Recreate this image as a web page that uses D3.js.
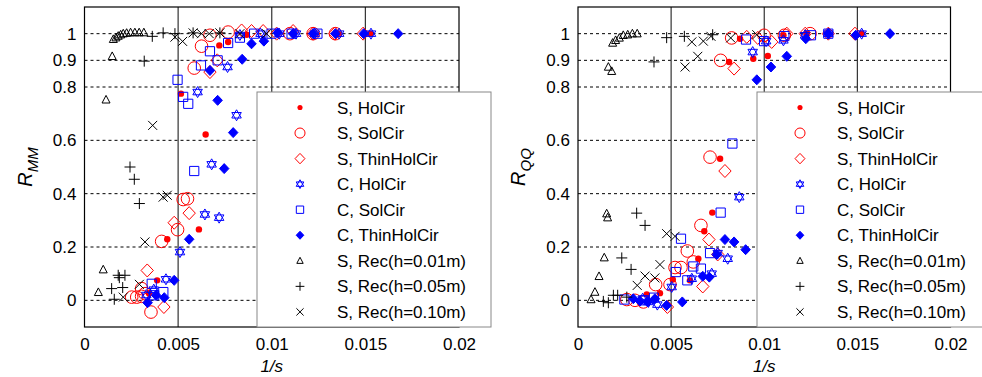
<!DOCTYPE html>
<html><head><meta charset="utf-8">
<script src="https://cdn.jsdelivr.net/npm/d3@7"></script>
<style>body{margin:0;background:#fff}svg{display:block}text{font-family:"Liberation Sans",Arial,sans-serif}</style>
</head><body><svg id="c" width="982" height="377"></svg>
<script>
const xTicks = [0, 0.005, 0.01, 0.015, 0.02];
const xTickLabels = ["0", "0.005", "0.01", "0.015", "0.02"];
const yTicks = [0, 0.2, 0.4, 0.6, 0.8, 0.9, 1];
const yTickLabels = ["0", "0.2", "0.4", "0.6", "0.8", "0.9", "1"];
const seriesNames = ["S, HolCir", "S, SolCir", "S, ThinHolCir", "C, HolCir", "C, SolCir", "C, ThinHolCir", "S, Rec(h=0.01m)", "S, Rec(h=0.05m)", "S, Rec(h=0.10m)"];
const seriesMarkers = ["dot", "circle", "diamond", "hexagram", "square", "fdiamond", "triangle", "plus", "cross"];
const seriesColors = ["#ff0000", "#ff0000", "#ff0000", "#0000ff", "#0000ff", "#0000ff", "#000000", "#000000", "#000000"];

// R_MM panel
const sHolCirMM = [[0.00344,0.027],[0.00388,0.075],[0.00442,0.229],[0.00515,0.775],[0.00611,0.266],[0.00647,0.622],[0.0072,0.956],[0.00767,0.969],[0.00866,0.996],[0.01114,1.0],[0.0122,1.0],[0.01354,1.0],[0.01527,1.0]];
const sSolCirMM = [[0.00252,0.012],[0.00279,0.012],[0.00305,0.015],[0.00323,0.025],[0.00305,0.044],[0.00355,-0.044],[0.00412,0.221],[0.00497,0.265],[0.00527,0.378],[0.0055,0.381],[0.00586,0.871],[0.00625,0.953],[0.0067,0.994],[0.00767,1.006],[0.01097,1.0],[0.01221,1.0],[0.0134,1.0]];
const sThinHolCirMM = [[0.00335,0.112],[0.00424,-0.025],[0.00479,0.291],[0.00559,0.327],[0.0067,0.856],[0.00709,0.9],[0.00839,1.012],[0.00892,1.01],[0.00954,1.01],[0.01026,1.0],[0.01114,1.01],[0.01221,1.0],[0.01337,1.0],[0.01488,1.0]];
const cHolCirMM = [[0.0033,0.02],[0.0037,0.04],[0.00435,0.079],[0.0051,0.181],[0.00643,0.322],[0.00719,0.31],[0.00679,0.51],[0.00604,0.781],[0.00812,0.694],[0.00764,0.875],[0.0083,0.995],[0.0094,1.0],[0.0104,1.0],[0.0113,1.0],[0.0123,1.0],[0.0136,1.0],[0.0153,1.0]];
const cSolCirMM = [[0.00359,0.062],[0.00372,0.019],[0.00421,0.031],[0.00497,0.827],[0.00527,0.763],[0.00554,0.737],[0.00586,0.485],[0.00622,0.881],[0.0067,0.934],[0.00711,0.9],[0.00767,0.965],[0.0083,0.985],[0.00906,1.0],[0.00999,1.0],[0.01106,1.0],[0.01244,1.0]];
const cThinHolCirMM = [[0.00337,-0.009],[0.00382,0.019],[0.00426,0.01],[0.00479,0.075],[0.00559,0.229],[0.00746,0.494],[0.00794,0.629],[0.00711,0.75],[0.0067,0.862],[0.00842,0.904],[0.00892,0.962],[0.00958,0.972],[0.01031,1.003],[0.01114,1.0],[0.01221,1.0],[0.0134,1.0],[0.01491,1.0],[0.01675,1.0]];
const sRec01MM = [[0.00074,0.03],[0.001,0.115],[0.00115,0.752],[0.00148,0.915],[0.00154,0.979],[0.00168,0.985],[0.0018,0.991],[0.00193,0.996],[0.00207,1.0],[0.00225,1.002],[0.00246,1.004],[0.00269,1.004],[0.00292,1.004],[0.00317,1.004]];
const sRec05MM = [[0.00145,0.044],[0.00159,0.004],[0.00204,0.048],[0.0018,0.094],[0.00216,0.094],[0.00186,0.085],[0.00266,0.454],[0.00243,0.5],[0.00293,0.363],[0.00319,0.897],[0.00362,0.99],[0.0042,1.003],[0.00483,1.0],[0.0058,1.003],[0.00723,1.003]];
const sRec10MM = [[0.00207,0.012],[0.00293,0.06],[0.00323,0.219],[0.0042,0.387],[0.00442,0.394],[0.00364,0.656],[0.00483,0.987],[0.00524,0.971],[0.0058,1.003],[0.00625,1.0],[0.00666,1.0],[0.00723,1.003],[0.0083,1.0],[0.00972,1.0]];

// R_QQ panel
const sHolCirQQ = [[0.00369,0.022],[0.0044,0.027],[0.00509,0.078],[0.00601,0.075],[0.00646,0.156],[0.00678,0.259],[0.00721,0.329],[0.00763,0.531],[0.00811,0.894],[0.0087,0.981],[0.00941,0.906],[0.01019,0.916],[0.01103,0.994],[0.01228,1.0],[0.01344,1.0],[0.01523,1.0]];
const sSolCirQQ = [[0.00262,0.003],[0.00306,0.0],[0.00351,-0.006],[0.00417,0.059],[0.00494,0.059],[0.00521,0.123],[0.00553,0.123],[0.00587,0.185],[0.00619,0.144],[0.0066,0.281],[0.00709,0.537],[0.00766,0.9],[0.00825,0.984],[0.00999,0.994],[0.01108,0.994],[0.01246,1.0]];
const sThinHolCirQQ = [[0.0048,-0.025],[0.0067,0.052],[0.00703,0.228],[0.0075,0.172],[0.00789,0.485],[0.00838,0.869],[0.00906,0.988],[0.00965,0.984],[0.0104,0.969],[0.01121,1.0],[0.0122,1.0],[0.01344,1.0],[0.01487,1.0]];
const cHolCirQQ = [[0.00347,0.006],[0.00378,-0.006],[0.00426,-0.016],[0.00503,0.05],[0.00611,0.081],[0.00718,0.1],[0.0075,0.177],[0.00804,0.156],[0.00866,0.387],[0.00938,0.931],[0.0101,0.972],[0.01103,0.975],[0.01219,0.994],[0.01344,1.0],[0.01523,1.0]];
const cSolCirQQ = [[0.00249,0.003],[0.00356,0.0],[0.00408,0.01],[0.00525,0.106],[0.00553,0.231],[0.00587,0.075],[0.00619,0.127],[0.0066,0.119],[0.00709,0.177],[0.00766,0.329],[0.00829,0.588],[0.00902,0.978],[0.00999,0.972],[0.01108,0.991],[0.01251,0.994],[0.01344,1.0]];
const cThinHolCirQQ = [[0.00297,0.006],[0.00333,-0.003],[0.00374,-0.006],[0.00413,0.006],[0.00476,-0.019],[0.0056,-0.006],[0.0067,0.09],[0.00705,0.087],[0.00745,0.172],[0.00789,0.228],[0.00838,0.219],[0.009,0.19],[0.0096,0.827],[0.01036,0.875],[0.01121,0.915],[0.01223,0.981],[0.01344,1.0],[0.01491,0.994],[0.01675,1.0]];
const sRec01QQ = [[0.0007,0.003],[0.00091,0.031],[0.00113,0.09],[0.00141,0.16],[0.00154,0.325],[0.00159,0.31],[0.00163,0.875],[0.00181,0.859],[0.00186,0.965],[0.00202,0.975],[0.00222,0.984],[0.00243,0.994],[0.00267,0.996],[0.00292,1.0],[0.00318,1.0]];
const sRec05QQ = [[0.00136,-0.004],[0.00163,-0.009],[0.0019,0.019],[0.00213,0.019],[0.00262,0.012],[0.00235,0.159],[0.00285,0.116],[0.00315,0.327],[0.0036,0.281],[0.00408,0.894],[0.00476,0.985],[0.00571,0.99],[0.00723,0.996]];
const sRec10QQ = [[0.00318,0.056],[0.0036,0.091],[0.00413,0.084],[0.0044,0.134],[0.00476,0.25],[0.00521,0.24],[0.00575,0.875],[0.00643,0.915],[0.00611,0.969],[0.00673,0.972],[0.00714,0.99],[0.0082,0.984],[0.0096,0.996]];

const seriesMM = [sHolCirMM, sSolCirMM, sThinHolCirMM, cHolCirMM, cSolCirMM, cThinHolCirMM, sRec01MM, sRec05MM, sRec10MM];
const seriesQQ = [sHolCirQQ, sSolCirQQ, sThinHolCirQQ, cHolCirQQ, cSolCirQQ, cThinHolCirQQ, sRec01QQ, sRec05QQ, sRec10QQ];

const svg = d3.select("#c");

function markerPath(type, s) {
  // s = scale factor
  const p = d3.path();
  if (type === "diamond" || type === "fdiamond") {
    const a = (type === "diamond" ? 6.5 : 5) * s;
    p.moveTo(0, -a); p.lineTo(a * 0.95, 0); p.lineTo(0, a); p.lineTo(-a * 0.95, 0); p.closePath();
  } else if (type === "hexagram") {
    const r = 5.5 * s;
    for (let t = 0; t < 2; t++) {
      for (let k = 0; k < 3; k++) {
        const ang = (t === 0 ? -90 : 90) + k * 120;
        const x = r * Math.cos(ang * Math.PI / 180), y = r * Math.sin(ang * Math.PI / 180);
        if (k === 0) p.moveTo(x, y); else p.lineTo(x, y);
      }
      p.closePath();
    }
  } else if (type === "square") {
    const a = 4.6 * s;
    p.rect(-a, -a, 2 * a, 2 * a);
  } else if (type === "triangle") {
    const a = 4 * s;
    p.moveTo(0, -a * 1.1); p.lineTo(a, a * 0.8); p.lineTo(-a, a * 0.8); p.closePath();
  } else if (type === "plus") {
    const a = 5.5 * s;
    p.moveTo(-a, 0); p.lineTo(a, 0); p.moveTo(0, -a); p.lineTo(0, a);
  } else if (type === "cross") {
    const a = 4.5 * s;
    p.moveTo(-a, -a); p.lineTo(a, a); p.moveTo(-a, a); p.lineTo(a, -a);
  }
  return p.toString();
}

function drawMarker(g, type, color, x, y, s) {
  if (type === "dot") {
    g.append("circle").attr("cx", x).attr("cy", y).attr("r", 3.2 * s).attr("fill", color);
  } else if (type === "circle") {
    g.append("circle").attr("cx", x).attr("cy", y).attr("r", 6.3 * s).attr("fill", "none").attr("stroke", color).attr("stroke-width", 1);
  } else {
    const filled = type === "fdiamond";
    g.append("path").attr("d", markerPath(type, s)).attr("transform", `translate(${x},${y})`)
      .attr("fill", filled ? color : "none").attr("stroke", color).attr("stroke-width", 1);
  }
}

function panel(x0, x1, data, labelMain, labelSub, labelX, legendX, legendW) {
  const x = d3.scaleLinear().domain([0, 0.02]).range([x0, x1]);
  const y = d3.scaleLinear().domain([-0.1, 1.1]).range([327, 7]);
  const g = svg.append("g");
  // horizontal dashed grid
  g.selectAll(".hg").data(yTicks).enter().append("line")
    .attr("x1", x0).attr("x2", x1).attr("y1", d => y(d)).attr("y2", d => y(d))
    .attr("stroke", "#000").attr("stroke-width", 1).attr("stroke-dasharray", "3,3");
  // vertical solid lines
  g.selectAll(".vg").data(xTicks.slice(1, 4)).enter().append("line")
    .attr("x1", d => x(d)).attr("x2", d => x(d)).attr("y1", y(1.1)).attr("y2", y(-0.1))
    .attr("stroke", "#333").attr("stroke-width", 1.2);
  // axes via d3 axis
  const ax = d3.axisBottom(x).tickValues(xTicks).tickFormat((d, i) => xTickLabels[i]).tickSize(0).tickPadding(11);
  const axg = g.append("g").attr("transform", `translate(0,${y(-0.1)})`).call(ax);
  axg.select(".domain").remove();
  axg.selectAll("text").attr("font-size", 17).attr("fill", "#000").attr("font-family", "Liberation Sans, Arial, sans-serif");
  const ay = d3.axisLeft(y).tickValues(yTicks).tickFormat((d, i) => yTickLabels[i]).tickSize(0).tickPadding(8);
  const ayg = g.append("g").attr("transform", `translate(${x0},0)`).call(ay);
  ayg.select(".domain").remove();
  ayg.selectAll("text").attr("font-size", 17).attr("fill", "#000").attr("font-family", "Liberation Sans, Arial, sans-serif");
  // box
  g.append("rect").attr("x", x0).attr("y", y(1.1)).attr("width", x1 - x0).attr("height", y(-0.1) - y(1.1))
    .attr("fill", "none").attr("stroke", "#000").attr("stroke-width", 1.2);
  // points
  const pg = svg.append("g");
  data.forEach((pts, si) => {
    pts.forEach(d => drawMarker(pg, seriesMarkers[si], seriesColors[si], x(d[0]), y(d[1]), 1));
  });
  // y label
  const yl = svg.append("text").attr("transform", `translate(${x0 - 53},${(y(1.1) + y(-0.1)) / 2}) rotate(-90)`)
    .attr("text-anchor", "middle").attr("font-size", 20).attr("font-style", "italic");
  yl.append("tspan").text(labelMain);
  yl.append("tspan").text(labelSub).attr("font-size", 15).attr("dy", 6);
  // x label
  svg.append("text").attr("x", (x0 + x1) / 2).attr("y", 372).attr("text-anchor", "middle")
    .attr("font-size", 17).attr("font-style", "italic").text(labelX);
  // legend
  const lg = svg.append("g");
  lg.append("rect").attr("x", legendX).attr("y", 92).attr("width", legendW).attr("height", 235)
    .attr("fill", "#fff").attr("stroke", "#888").attr("stroke-width", 1);
  seriesNames.forEach((name, i) => {
    const ry = 107.5 + i * 25.55;
    drawMarker(lg, seriesMarkers[i], seriesColors[i], legendX + 43, ry, 0.8);
    lg.append("text").attr("x", legendX + 80).attr("y", ry + 6).attr("font-size", 17).text(name);
  });
}

panel(84.5, 459, seriesMM, "R", "MM", "1/s", 257, 234);
panel(578, 950.5, seriesQQ, "R", "QQ", "1/s", 757, 228);
</script></body></html>
